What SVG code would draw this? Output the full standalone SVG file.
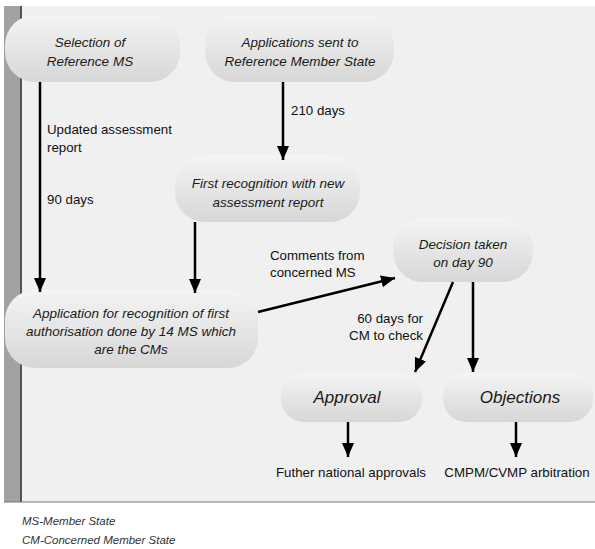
<svg xmlns="http://www.w3.org/2000/svg" width="595" height="549" viewBox="0 0 595 549">
<defs>
<linearGradient id="ng" x1="0" y1="0" x2="0" y2="1">
<stop offset="0" stop-color="#f4f4f4"/>
<stop offset="1" stop-color="#d7d7d7"/>
</linearGradient>
<marker id="ah" markerUnits="userSpaceOnUse" markerWidth="14" markerHeight="12" refX="14" refY="6" orient="auto">
<path d="M0,0 L14,6 L0,12 z" fill="#000"/>
</marker>
</defs>
<style>
.node{fill:url(#ng);}
.nt{font-family:"Liberation Sans",Arial,sans-serif;font-style:italic;font-size:13.5px;fill:#1a1a1a;text-anchor:middle;}
.big{font-size:17px;}
.lbl{font-family:"Liberation Sans",Arial,sans-serif;font-size:13.3px;fill:#111;}
.leg{font-family:"Liberation Sans",Arial,sans-serif;font-style:italic;font-size:11.5px;fill:#333;}
.con line{stroke:#000;stroke-width:2.5;marker-end:url(#ah);}
</style>
<rect x="0" y="0" width="595" height="549" fill="#ffffff"/>
<rect x="4" y="6" width="591" height="496" fill="#f0f0f0"/>
<rect x="4" y="6" width="16" height="496" fill="#a2a2a2"/>
<rect x="20" y="6" width="2" height="496" fill="#555"/>
<line x1="4" y1="502" x2="595" y2="502" stroke="#777" stroke-width="1.2"/>

<g id="n-selection">
<rect class="node" x="5" y="15" width="175" height="67" rx="30"/>
<text class="nt" x="90" y="47">Selection of</text>
<text class="nt" x="90" y="66">Reference MS</text>
</g>
<g id="n-applications">
<rect class="node" x="205" y="15" width="189" height="67" rx="30"/>
<text class="nt" x="300" y="47">Applications sent to</text>
<text class="nt" x="300" y="66">Reference Member State</text>
</g>
<g id="n-first">
<rect class="node" x="175" y="155" width="185" height="67" rx="30"/>
<text class="nt" x="268" y="188">First recognition with new</text>
<text class="nt" x="268" y="207">assessment report</text>
</g>
<g id="n-application-recognition">
<rect class="node" x="5" y="290" width="253" height="78" rx="30"/>
<text class="nt" x="131" y="318">Application for recognition of first</text>
<text class="nt" x="131" y="336">authorisation done by 14 MS which</text>
<text class="nt" x="131" y="354">are the CMs</text>
</g>
<g id="n-decision">
<rect class="node" x="393" y="218" width="140" height="64" rx="30"/>
<text class="nt" x="463" y="249">Decision taken</text>
<text class="nt" x="463" y="267">on day 90</text>
</g>
<g id="n-approval">
<rect class="node" x="281" y="373" width="141" height="49" rx="23"/>
<text class="nt big" x="347" y="403">Approval</text>
</g>
<g id="n-objections">
<rect class="node" x="443" y="373" width="150" height="49" rx="23"/>
<text class="nt big" x="520" y="403">Objections</text>
</g>

<g id="connectors" class="con">
<line x1="40" y1="82" x2="40" y2="292"/>
<line x1="283" y1="82" x2="283" y2="160"/>
<line x1="195" y1="222" x2="195" y2="293"/>
<line x1="258" y1="312" x2="395" y2="278"/>
<line x1="453" y1="282" x2="415" y2="372"/>
<line x1="473" y1="282" x2="473" y2="372"/>
<line x1="348" y1="422" x2="348" y2="457"/>
<line x1="516" y1="422" x2="516" y2="457"/>
</g>

<g id="labels">
<text class="lbl" x="47" y="134">Updated assessment</text>
<text class="lbl" x="47" y="152">report</text>
<text class="lbl" x="47" y="204">90 days</text>
<text class="lbl" x="291" y="115">210 days</text>
<text class="lbl" x="270" y="260">Comments from</text>
<text class="lbl" x="270" y="277">concerned MS</text>
<text class="lbl" x="423" y="323" text-anchor="end">60 days for</text>
<text class="lbl" x="423" y="340" text-anchor="end">CM to check</text>
<text class="lbl" x="351" y="477" text-anchor="middle">Futher national approvals</text>
<text class="lbl" x="517" y="477" text-anchor="middle">CMPM/CVMP arbitration</text>
</g>

<g id="legend">
<text class="leg" x="22" y="525">MS-Member State</text>
<text class="leg" x="22" y="544">CM-Concerned Member State</text>
</g>
</svg>
